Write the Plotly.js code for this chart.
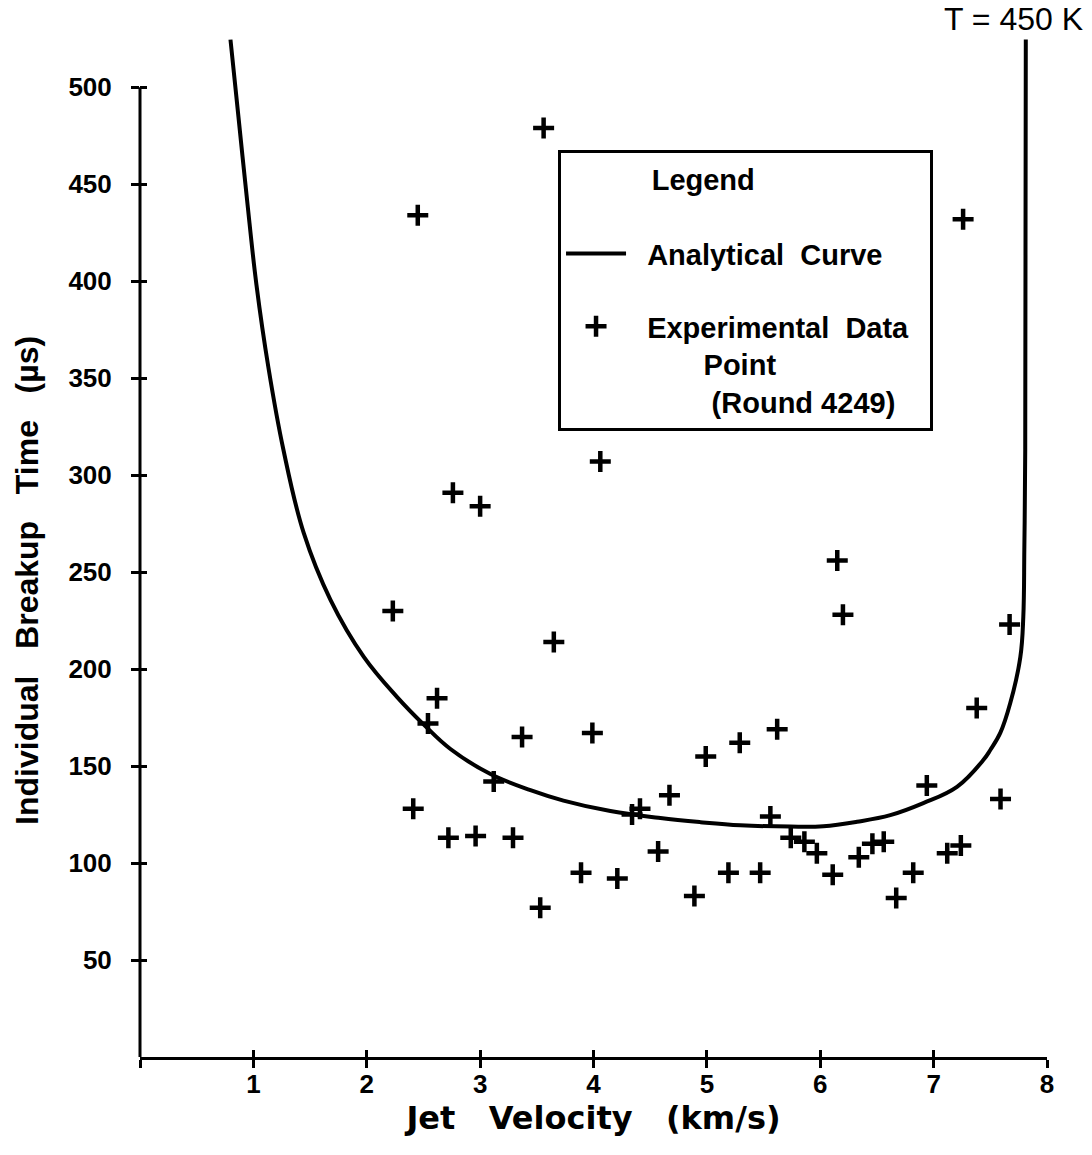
<!DOCTYPE html>
<html>
<head>
<meta charset="utf-8">
<script src="https://cdn.plot.ly/plotly-3.0.1.min.js"></script>
<style>html,body{margin:0;padding:0;background:#fff;}</style>
</head>
<body>
<div id="chart" style="width:1092px;height:1155px;"></div>
<script>
// Experimental data points (Round 4249): jet velocity (km/s) and breakup time (µs)
const expVelocity = [2.45, 3.56, 7.26, 4.06, 2.76, 3.00, 2.23, 3.65, 6.15, 6.20,
  7.67, 2.62, 2.54, 7.38, 3.37, 3.99, 5.62, 5.29, 4.99, 3.12,
  2.41, 4.67, 4.41, 4.34, 5.56, 2.72, 2.96, 3.29, 3.89, 4.21,
  3.53, 4.57, 4.89, 5.19, 5.47, 5.74, 5.86, 5.97, 6.11, 6.34,
  6.46, 6.56, 6.67, 6.82, 6.94, 7.12, 7.24, 7.59];
const expTime = [434, 479, 432, 307, 291, 284, 230, 214, 256, 228,
  223, 185, 172, 180, 165, 167, 169, 162, 155, 142,
  128, 135, 128, 125, 124, 113, 114, 113, 95, 92,
  77, 106, 83, 95, 95, 113, 111, 105, 94, 103,
  110, 111, 82, 95, 140, 105, 109, 133];

// Analytical curve
const curveVelocity = [0.798, 0.869, 0.944, 1.027, 1.133, 1.265, 1.444, 1.680, 1.974, 2.268,
  2.503, 2.738, 3.091, 3.444, 3.735, 4.149, 4.590, 4.943, 5.295, 5.736,
  6.027, 6.325, 6.618, 6.909, 7.206, 7.438, 7.500, 7.588, 7.676, 7.765,
  7.791, 7.800, 7.808, 7.813];
const curveTime = [524.6, 484.4, 442.1, 398.2, 355.4, 313.1, 270.2, 235.7, 206.3, 185.6,
  171.4, 158.8, 145.9, 137.6, 132.2, 126.8, 123.2, 121.1, 119.5, 118.8,
  119.0, 121.3, 124.7, 130.9, 139.3, 153.1, 158.3, 167.1, 182.5, 206.3,
  226.9, 261.5, 313.1, 524.6];

const xTickVals = [0, 1, 2, 3, 4, 5, 6, 7, 8];
const xTickText = ['', '1', '2', '3', '4', '5', '6', '7', '8'];
const yTickVals = [50, 100, 150, 200, 250, 300, 350, 400, 450, 500];

const sp = n => '\u00a0'.repeat(n);
const curveName = sp(2) + 'Analytical' + sp(2) + 'Curve';
const dataName = sp(2) + 'Experimental' + sp(2) + 'Data' + sp(2) + '<br>' + sp(9) + 'Point<br>' + sp(10) + '(Round 4249)';
const legendTitle = sp(11) + 'Legend<br>' + sp(1);

const bold = {family: 'Liberation Sans, Arial, sans-serif', weight: 'bold', color: '#000'};

const traces = [
  {
    x: curveVelocity, y: curveTime, mode: 'lines', name: curveName,
    xaxis: 'x2', yaxis: 'y2',
    legendgroup: 'a',
    line: {color: '#000', width: 4, shape: 'spline', smoothing: 1.1},
    hoverinfo: 'skip'
  },
  {
    x: expVelocity, y: expTime, mode: 'markers', name: dataName,
    legendgroup: 'b',
    marker: {symbol: 'cross-thin', size: 15, color: '#000', line: {color: '#000', width: 4.5}},
    cliponaxis: false
  }
];

const axisCommon = {
  tickmode: 'array', tickwidth: 3, tickcolor: '#000',
  showgrid: false, zeroline: false, automargin: false
};

const layout = {
  width: 1092, height: 1155,
  margin: {l: 140, r: 45, t: 33, b: 98},
  paper_bgcolor: '#fff', plot_bgcolor: '#fff',
  showlegend: true,
  xaxis: Object.assign({}, axisCommon, {
    range: [0, 8], tickvals: xTickVals, ticktext: xTickText,
    ticks: 'outside', ticklen: 8,
    showline: true, linewidth: 3, linecolor: '#000',
    tickfont: Object.assign({size: 26}, bold),
    ticklabelstandoff: -6,
    title: {
      text: 'Jet' + sp(3) + 'Velocity' + sp(3) + '(km/s)',
      font: {family: 'DejaVu Sans, sans-serif', weight: 'bold', size: 32, color: '#000'},
      standoff: 6
    }
  }),
  yaxis: Object.assign({}, axisCommon, {
    range: [0, 528], tickvals: yTickVals,
    ticks: 'outside', ticklen: 8,
    showline: false,
    tickfont: Object.assign({size: 26}, bold),
    ticklabelstandoff: 14
  }),
  xaxis2: Object.assign({}, axisCommon, {
    overlaying: 'x', anchor: 'y2', range: [0, 8], tickvals: xTickVals,
    ticks: 'inside', ticklen: 7, showticklabels: false, showline: false
  }),
  yaxis2: Object.assign({}, axisCommon, {
    overlaying: 'y', anchor: 'x2', side: 'left', range: [0, 528], tickvals: yTickVals,
    ticks: 'inside', ticklen: 7, showticklabels: false, showline: false
  }),
  shapes: [
    {type: 'line', xref: 'paper', yref: 'y', x0: 0, x1: 0, y0: 0, y1: yTickVals[yTickVals.length - 1],
     line: {color: '#000', width: 3}}
  ],
  legend: {
    x: 0.4609, y: 0.886, xanchor: 'left', yanchor: 'top',
    bgcolor: '#fff', bordercolor: '#000', borderwidth: 3,
    font: Object.assign({size: 29}, bold),
    title: {text: legendTitle, font: Object.assign({size: 29}, bold)},
    traceorder: 'grouped', tracegroupgap: 32, itemwidth: 60, valign: 'top'
  },
  annotations: [
    {
      text: 'Individual' + sp(3) + 'Breakup' + sp(3) + 'Time' + sp(3) + '(µs)',
      xref: 'paper', yref: 'y', x: -0.1246, y: 246, textangle: -90,
      xanchor: 'center', yanchor: 'middle', showarrow: false,
      font: Object.assign({size: 32}, bold)
    },
    {
      text: 'T = 450 K',
      xref: 'paper', yref: 'paper', x: 1.042, y: 1.0137,
      xanchor: 'right', yanchor: 'middle', showarrow: false,
      font: {family: 'Liberation Sans, Arial, sans-serif', size: 32, color: '#000'}
    }
  ]
};

Plotly.newPlot('chart', traces, layout, {displayModeBar: false, staticPlot: true});
</script>
</body>
</html>
